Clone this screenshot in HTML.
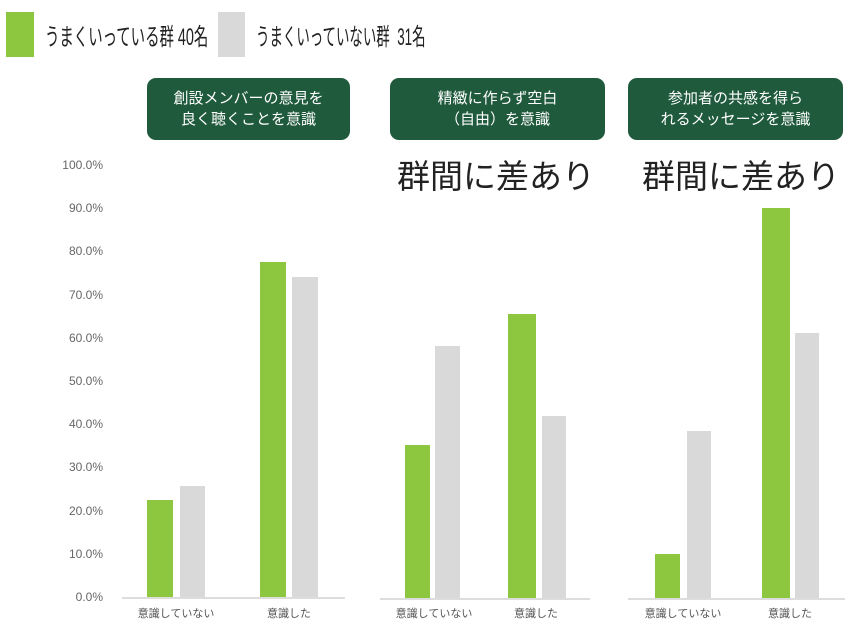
<!DOCTYPE html>
<html><head><meta charset="utf-8"><style>
body{margin:0;width:860px;height:631px;background:#fff;position:relative;overflow:hidden;font-family:"Liberation Sans","Noto Sans CJK JP",sans-serif}
.a{position:absolute}
.lg{position:absolute;top:17px;font-size:24px;color:#222;white-space:nowrap;transform-origin:left top}
.box{position:absolute;background:#1f5a3c;color:#fff;border-radius:9px;font-size:15px;line-height:21px;text-align:center;display:flex;align-items:center;justify-content:center}
.diff{position:absolute;font-size:33px;color:#222;white-space:nowrap}
.tk{position:absolute;right:757px;font-size:12px;color:#666;transform:translateY(-50%)}
.g{position:absolute;background:#8dc63f}
.w{position:absolute;background:#d9d9d9}
.base{position:absolute;height:2px;background:#ddd}
.cat{position:absolute;font-size:11px;color:#555;transform:translateX(-50%);white-space:nowrap;top:605px}
</style></head><body>
<div class="a" style="left:6px;top:12px;width:28px;height:45px;background:#8dc63f"></div>
<div class="lg" style="left:45px;transform:scaleX(0.6)">うまくいっている群 40名</div>
<div class="a" style="left:218px;top:12px;width:27px;height:45px;background:#d9d9d9"></div>
<div class="lg" style="left:256px;transform:scaleX(0.56)">うまくいっていない群&nbsp; 31名</div>

<div class="box" style="left:147px;top:78px;width:203px;height:62px">創設メンバーの意見を<br>良く聴くことを意識</div>
<div class="box" style="left:390px;top:78px;width:215px;height:62px">精緻に作らず空白<br>（自由）を意識</div>
<div class="box" style="left:628px;top:78px;width:215px;height:62px">参加者の共感を得ら<br>れるメッセージを意識</div>
<div class="diff" style="left:397px;top:150px">群間に差あり</div>
<div class="diff" style="left:642px;top:150px">群間に差あり</div>

<div class="tk" style="top:165px">100.0%</div>
<div class="tk" style="top:208px">90.0%</div>
<div class="tk" style="top:251px">80.0%</div>
<div class="tk" style="top:295px">70.0%</div>
<div class="tk" style="top:338px">60.0%</div>
<div class="tk" style="top:381px">50.0%</div>
<div class="tk" style="top:424px">40.0%</div>
<div class="tk" style="top:467px">30.0%</div>
<div class="tk" style="top:511px">20.0%</div>
<div class="tk" style="top:554px">10.0%</div>
<div class="tk" style="top:597px">0.0%</div>

<div class="g" style="left:147px;top:500px;width:26px;height:97px"></div>
<div class="w" style="left:180px;top:486px;width:25px;height:111px"></div>
<div class="g" style="left:260px;top:262px;width:26px;height:335px"></div>
<div class="w" style="left:292px;top:277px;width:26px;height:320px"></div>
<div class="base" style="left:122px;top:597px;width:223px"></div>

<div class="g" style="left:405px;top:445px;width:25px;height:153px"></div>
<div class="w" style="left:435px;top:346px;width:25px;height:252px"></div>
<div class="g" style="left:508px;top:314px;width:28px;height:284px"></div>
<div class="w" style="left:542px;top:416px;width:24px;height:182px"></div>
<div class="base" style="left:380px;top:598px;width:210px"></div>

<div class="g" style="left:655px;top:554px;width:25px;height:44px"></div>
<div class="w" style="left:687px;top:431px;width:24px;height:167px"></div>
<div class="g" style="left:762px;top:208px;width:28px;height:390px"></div>
<div class="w" style="left:795px;top:333px;width:24px;height:265px"></div>
<div class="base" style="left:628px;top:598px;width:217px"></div>

<div class="cat" style="left:176px">意識していない</div>
<div class="cat" style="left:289px">意識した</div>
<div class="cat" style="left:434px">意識していない</div>
<div class="cat" style="left:536px">意識した</div>
<div class="cat" style="left:683px">意識していない</div>
<div class="cat" style="left:790px">意識した</div>
</body></html>
